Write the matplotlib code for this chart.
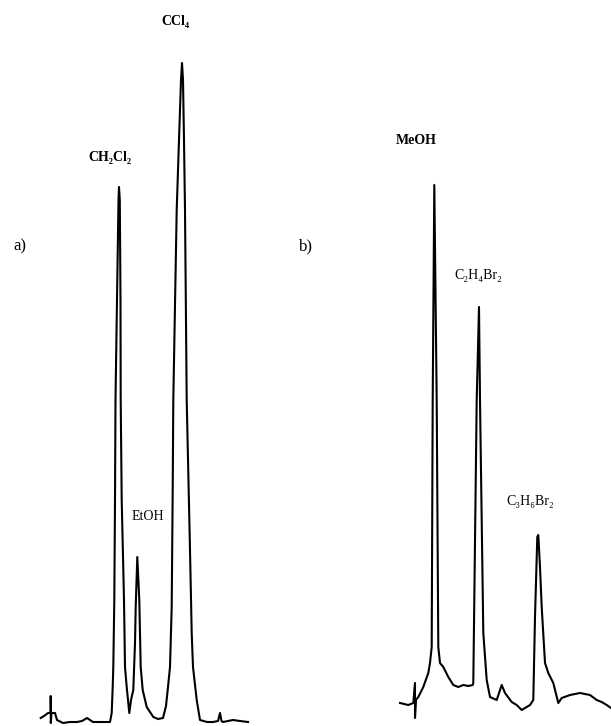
import matplotlib.pyplot as plt
import numpy as np

plt.rcParams['font.family'] = ['Liberation Serif', 'DejaVu Serif']

# trace a): retention (arb. units) and detector signal (arb. units)
time_a = [40.7, 44, 48, 50.7, 50.7, 50.8, 51.5, 55, 57, 63, 70, 77, 82, 87, 90, 93,
          100, 106, 110, 111.7, 112.7, 113.3, 114.3, 115, 115.5, 117, 118.5, 119,
          119.8, 120.5, 120.7, 121.7, 124, 125, 126.7, 129.3, 131, 133.3, 135, 135.7,
          137.3, 139.3, 140.7, 142.7, 146.7, 153.3, 158, 163, 166, 168, 170, 171.7,
          172.7, 173.3, 176.7, 179, 181, 182, 183, 184, 185, 186.7, 190, 191.7, 193,
          196.7, 200, 207, 213, 218, 220, 221.5, 223, 228, 233, 240, 248]
signal_a = [8, 10, 13, 13, 30, 3, 13, 13, 6, 3, 4, 4, 5, 8, 6, 4,
            4, 4, 4, 13, 39, 59, 126, 226, 326, 426, 526, 539,
            526, 426, 326, 226, 126, 59, 39, 13, 26, 36, 83, 119,
            169, 126, 59, 36, 19, 9, 7, 8, 20, 39, 59, 119,
            236, 326, 516, 586, 646, 663, 646, 586, 516, 326, 176, 93, 59,
            26, 6, 4, 4, 5, 13, 5, 4, 5, 6, 5, 4]

# trace b)
time_b = [400, 408.3, 413.3, 415, 415, 416, 418.3, 423.3, 428.3, 430, 431.7, 432.7,
          434.3, 436.7, 438.3, 440, 443.3, 448.3, 453.3, 458.3, 463.3, 468.3, 472.7,
          473.3, 476.7, 479, 480, 483.3, 486.7, 490, 496.7, 501.7, 505, 511.7, 516.7,
          521.7, 530, 533.3, 535, 537.3, 538.3, 540, 541.7, 545, 548.3, 553.3, 558.3,
          561.7, 570, 580, 590, 596.7, 601.7, 606.7, 611]
signal_b = [23, 21, 23, 43, 8, 26, 29, 39, 53, 63, 79, 326,
            541, 326, 79, 63, 59, 49, 41, 39, 41, 40, 41,
            43, 326, 419, 326, 93, 46, 29, 26, 41, 33, 24, 21,
            16, 21, 26, 109, 189, 191, 159, 119, 63, 53, 43, 23,
            28, 31, 33, 31, 26, 24, 21, 18]

labels_a = ['CH₂Cl₂', 'EtOH', 'CCl₄']
labels_b = ['MeOH', 'C₂H₄Br₂', 'C₃H₆Br₂']
apex_a = [119, 137.3, 182]
apex_b = [434.3, 479, 538.3]
bold_a = [True, False, True]
bold_b = [True, False, False]

fig = plt.figure(figsize=(6.11, 7.26), dpi=100)
ax_a = fig.add_axes([0, 0, 0.5, 1])
ax_b = fig.add_axes([0.5, 0, 0.5, 1])

offs_a = [(-9, 29), (11, 40), (-7, 41)]
offs_b = [(-18, 44), (-1, 32), (-8, 33)]

panels = [(ax_a, time_a, signal_a, labels_a, apex_a, bold_a, offs_a, (0, 305.5), 20, 'a)'),
          (ax_b, time_b, signal_b, labels_b, apex_b, bold_b, offs_b, (305.5, 611), 305.5, 'b)')]

for ax, t, s, labs, apex, bold, offs, xl, tag_x, tag in panels:
    ax.plot(t, s, color='black', lw=1.5, solid_joinstyle='round')
    t_arr = np.array(t)
    s_arr = np.array(s)
    for lab, xp, b, (dx, dy) in zip(labs, apex, bold, offs):
        yp = s_arr[np.argmin(np.abs(t_arr - xp))]
        ax.text(xp + dx, yp + dy, lab, ha='center', va='center', fontsize=10,
                fontweight='bold' if b else 'normal')
    ax.text(tag_x, 480, tag, ha='center', va='center', fontsize=12)
    ax.set_xlim(*xl)
    ax.set_ylim(0, 726)
    ax.axis('off')

fig.savefig('out.png', dpi=100, facecolor='white')
